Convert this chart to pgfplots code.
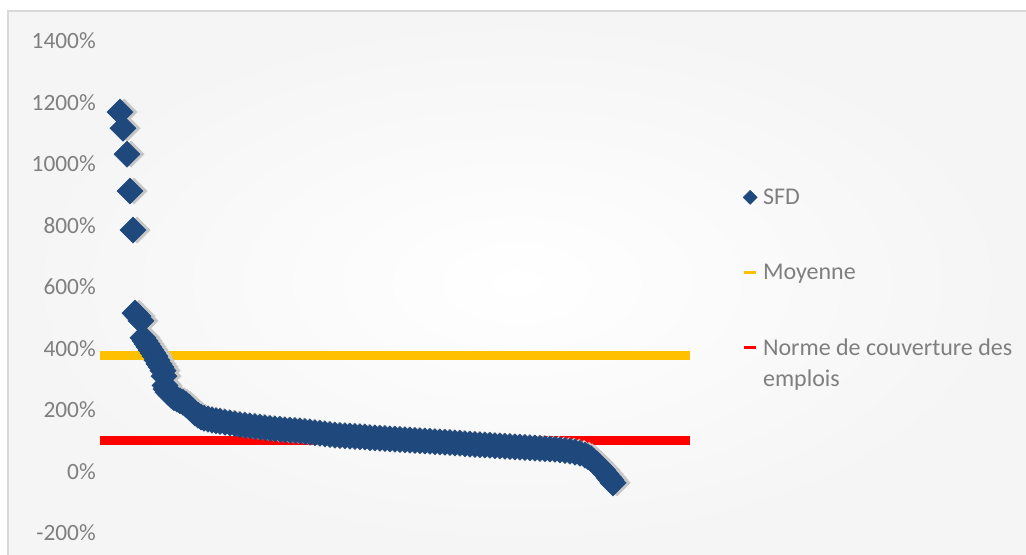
\documentclass[border=0pt]{standalone}
\usepackage{pgfplots}
\pgfplotsset{compat=1.18}
\usepackage{fontspec}
\setmainfont{Carlito}
\definecolor{sfd}{HTML}{1F497D}
\definecolor{moy}{HTML}{FFC000}
\definecolor{norme}{HTML}{FF0000}
\definecolor{txt}{HTML}{7F7F7F}
\definecolor{cadre}{HTML}{D9D9D9}

\pgfplotstableread{
x y
20 1169
23 1116
27 1032
30 912
33 785
35 515
38 505
41 490
43 435
45 425
47 415
49 405
51 395
53 385
55 375
57 362
59 350
61 340
63 328
64 310
65 280
66 268
68 258
71 248
74 240
77 235
80 230
83 225
86 218
89 210
92 200
95 190
98 183
101 177
104 173
108 170
112 167
116 165
120 163
125 160
130 158
135 155
140 152
145 150
150 148
155 146
160 144
165 142
170 140
175 138
180 137
185 135
190 134
195 133
200 132
205 130
210 128
215 126
220 124
225 122
230 120
235 118
240 117
245 116
250 115
255 114
260 113
265 112
270 110
275 109
280 108
285 107
290 106
295 105
300 104
305 103
310 102
315 101
320 100
325 99
330 98
335 97
340 96
345 95
350 94
355 93
360 92
365 90
370 89
375 88
380 87
385 86
390 85
395 84
400 83
405 82
410 81
415 80
420 79
425 78
430 77
435 76
440 75
445 74
450 73
455 72
460 70
465 68
470 66
475 63
480 59
485 53
488 48
491 42
494 32
497 24
500 14
503 4
506 -8
509 -20
511 -28
513 -37
}\sfddata

\begin{document}
\begin{tikzpicture}
\path[use as bounding box] (0pt,0pt) rectangle (769.5pt,416.25pt);
\shade[inner color=white,outer color=black!4] (6pt,0pt) rectangle (769.5pt,408pt);
\draw[cadre,line width=0.8pt] (6pt,0pt) -- (6pt,408pt) -- (769.5pt,408pt);
\begin{axis}[
  at={(75pt,16.5pt)}, anchor=south west,
  scale only axis, width=442.5pt, height=369pt,
  xmin=0, xmax=590, ymin=-200, ymax=1400,
  hide x axis,
  axis line style={draw=none},
  ytick={-200,0,200,400,600,800,1000,1200,1400},
  yticklabels={-200\%,0\%,200\%,400\%,600\%,800\%,1000\%,1200\%,1400\%},
  major tick length=0pt,
  ytick style={draw=none},
  yticklabel style={font=\fontsize{17.5}{20}\selectfont, text=txt, inner sep=3pt},
  clip=false,
  legend style={at={(1.082,0.71)}, anchor=north west, draw=none, fill=none,
    font=\fontsize{18}{23.5}\selectfont, text=txt, row sep=39.3pt, column sep=2pt,
    cells={anchor=base west, inner sep=2pt}},
]
\addplot[only marks, mark=square*, mark size=6.9pt, gray!45, forget plot,
  mark options={rotate=45, xshift=2.2pt, yshift=-2.2pt}] table[x=x,y=y] {\sfddata};
\addplot[only marks, mark=square*, mark size=6.9pt, sfd,
  mark options={rotate=45},
  legend image code/.code={\path[fill=sfd,yshift=5.6pt,rotate=45] (-3.7pt,-3.7pt) rectangle (3.7pt,3.7pt);}]
  table[x=x,y=y] {\sfddata};
\addlegendentry{SFD}
\addplot[moy, line width=6.75pt,
  legend image code/.code={\draw[line width=2.3pt] (-4.5pt,5.6pt) -- (4.5pt,5.6pt);}]
  coordinates {(0,376) (590,376)};
\addlegendentry{Moyenne}
\addplot[norme, line width=6.75pt,
  legend image code/.code={\draw[line width=2.3pt] (-4.5pt,5.6pt) -- (4.5pt,5.6pt);}]
  coordinates {(0,100) (590,100)};
\addlegendentry{\raisebox{0pt}[11.7pt][0pt]{\begin{tabular}[t]{@{}l@{}}Norme de couverture des\\emplois\end{tabular}}}
\end{axis}
\end{tikzpicture}
\end{document}
